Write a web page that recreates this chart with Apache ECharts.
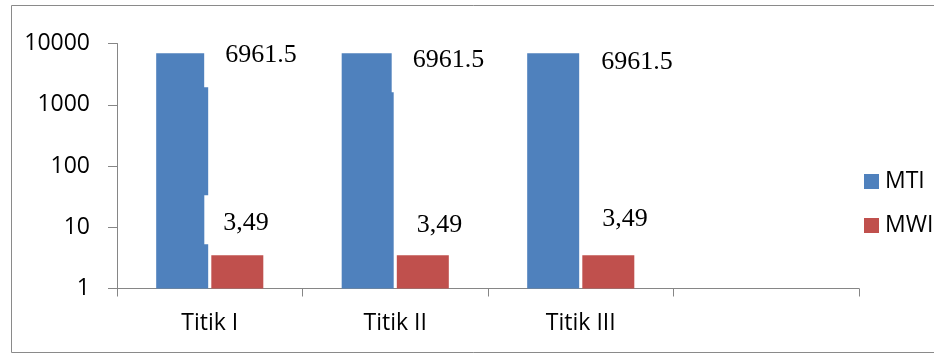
<!DOCTYPE html>
<html>
<head>
<meta charset="utf-8">
<script src="https://cdn.jsdelivr.net/npm/echarts@6/dist/echarts.min.js"></script>
<style>
  html, body { margin: 0; padding: 0; background: #fff; }
  #chart { width: 934px; height: 354px; }
</style>
</head>
<body>
<div id="chart"></div>
<script>
// Measurement points and the two indices
const categories = ['Titik I', 'Titik II', 'Titik III', ''];
const mtiValues = [6961.5, 6961.5, 6961.5];
const mwiValues = [3.49, 3.49, 3.49];
const seriesNames = ['MTI', 'MWI'];

// Where each value label box sits, relative to its bar's top-left corner
const mtiLabelAt = [[48, -15], [50, -10], [53, -8]];
const mwiLabelAt = [[-7, -60], [1, -58], [1, -64]];

const axisGray = '#868686';
const sansFont = 'Open Sans';
const serifFont = 'Liberation Serif';

const chart = echarts.init(document.getElementById('chart'), null, { renderer: 'canvas' });

const valueLabel = {
  show: true,
  fontFamily: serifFont,
  fontSize: 26,
  lineHeight: 26,
  color: '#000',
  backgroundColor: '#fff',
  align: 'left',
  verticalAlign: 'top'
};

chart.setOption({
  animation: false,
  backgroundColor: '#fff',
  graphic: [{
    type: 'rect',
    shape: { x: 11.5, y: 5.5, width: 940, height: 347 },
    style: { fill: 'none', stroke: '#8a8a8a', lineWidth: 1 },
    silent: true
  }],
  grid: { left: 117, right: 75, top: 43.5, bottom: 65.5 },
  legend: {
    orient: 'vertical',
    left: 859,
    top: 164.5,
    icon: 'rect',
    itemWidth: 15,
    itemHeight: 15,
    itemGap: 20,
    textStyle: { fontFamily: sansFont, fontSize: 23, lineHeight: 24, color: '#000', padding: [0, 0, 0, 1] },
    data: seriesNames
  },
  xAxis: {
    type: 'category',
    data: categories,
    boundaryGap: true,
    axisLine: { lineStyle: { color: axisGray, width: 1 } },
    axisTick: { show: true, length: 8, interval: 0, lineStyle: { color: axisGray } },
    axisLabel: { interval: 0, margin: 23, fontFamily: sansFont, fontSize: 23, color: '#000' },
    splitLine: { show: false }
  },
  yAxis: {
    type: 'log',
    logBase: 10,
    min: 1,
    max: 10000,
    axisLine: { show: true, lineStyle: { color: axisGray, width: 1 } },
    axisTick: { show: true, length: 9, lineStyle: { color: axisGray } },
    axisLabel: {
      margin: 27,
      fontFamily: sansFont,
      fontSize: 23,
      color: '#000',
      formatter: v => String(Math.round(v))
    },
    splitLine: { show: false }
  },
  series: [
    {
      name: seriesNames[0],
      type: 'bar',
      barWidth: 52,
      barGap: '6%',
      itemStyle: { color: '#4F81BD' },
      label: Object.assign({}, valueLabel, {
        padding: [4, 4, 19, 21],
        formatter: p => String(p.value)
      }),
      data: mtiValues.map((v, i) => ({ value: v, label: { position: mtiLabelAt[i] } }))
    },
    {
      name: seriesNames[1],
      type: 'bar',
      barWidth: 52,
      barGap: '6%',
      itemStyle: { color: '#C0504D' },
      label: Object.assign({}, valueLabel, {
        padding: [15, 4, 8, 19],
        formatter: p => String(p.value).replace('.', ',')
      }),
      data: mwiValues.map((v, i) => ({ value: v, label: { position: mwiLabelAt[i] } }))
    }
  ]
});
</script>
</body>
</html>
